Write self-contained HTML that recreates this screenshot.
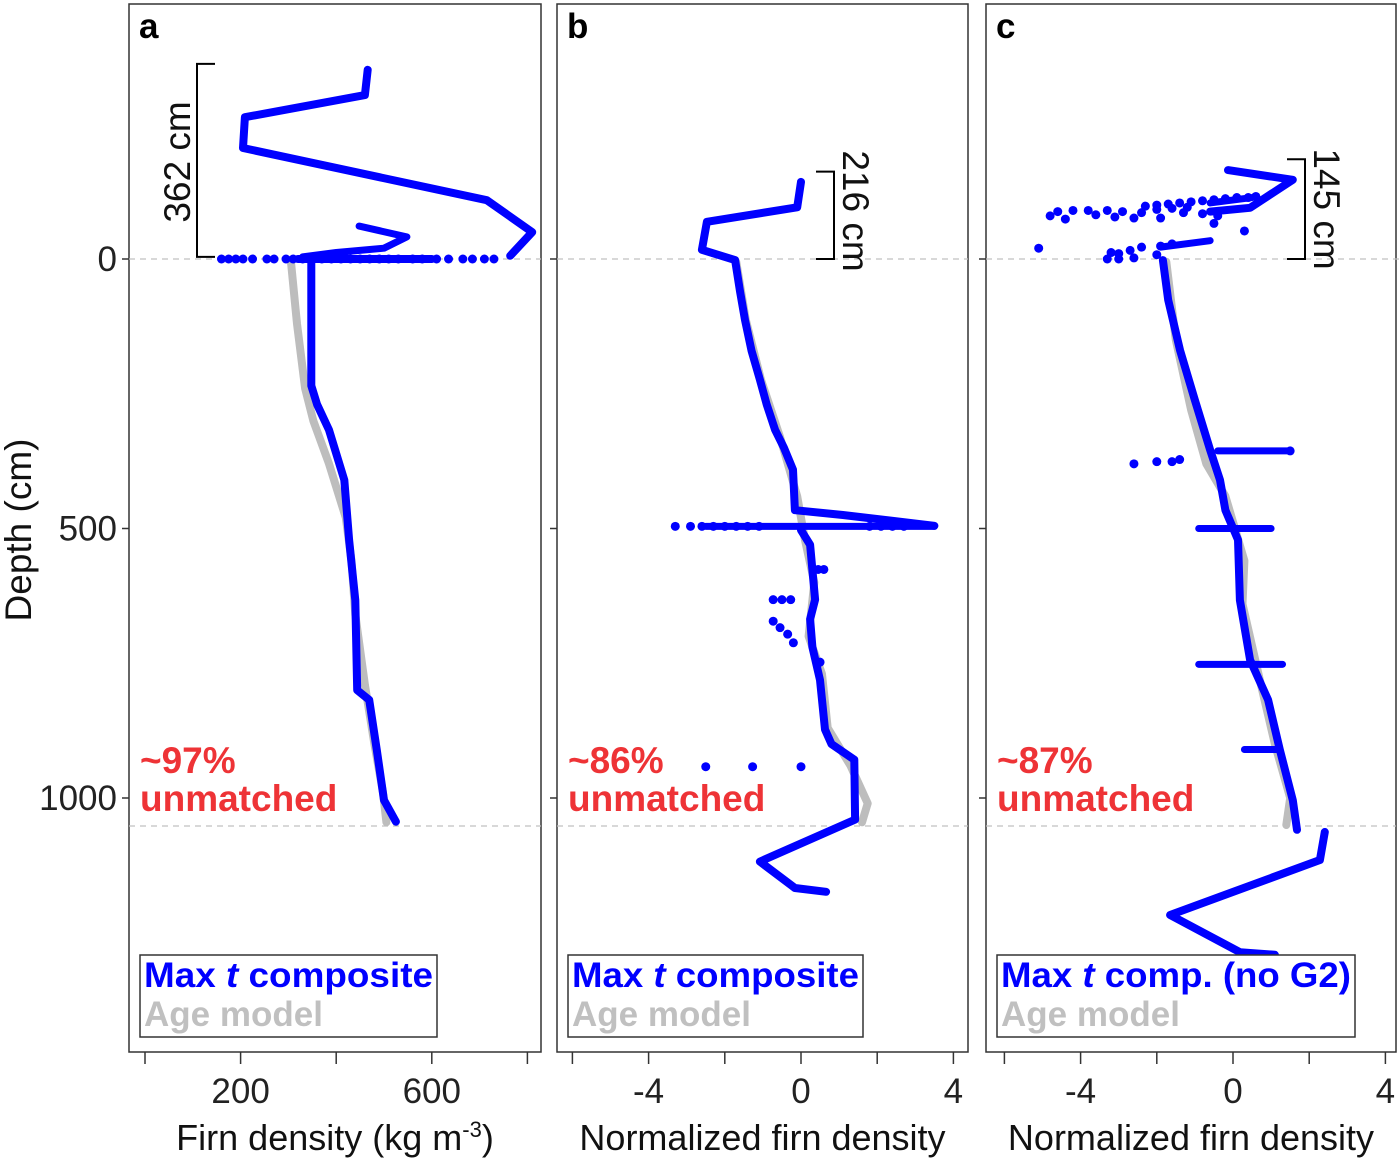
<!DOCTYPE html>
<html><head><meta charset="utf-8"><style>
html,body{margin:0;padding:0;background:#fff;}
svg{display:block;font-family:"Liberation Sans",Arial,sans-serif;}
</style></head><body>
<svg id="fig" width="1400" height="1160" viewBox="0 0 1400 1160"></svg>
<script>
// ---------- data ----------
const depthTicks = [0, 500, 1000];
const aTicks = [0, 200, 400, 600, 800];
const aTickLabels = ["", "200", "", "600", ""];
const nTicks = [-6, -4, -2, 0, 2, 4];
const nTickLabels = ["", "-4", "", "0", "", "4"];

// Panel a
const aLineVal   = [466, 460, 209, 205, 715, 810, 764];
const aLineDepth = [-351, -304, -263, -206, -109, -50, -6];
const aLine2Val   = [448, 548, 500, 400, 330];
const aLine2Depth = [-61, -41, -20, -12, -4];
const aMainVal   = [348, 348, 360, 385, 417, 427, 440, 444, 469, 485, 500, 525];
const aMainDepth = [0, 235, 270, 317, 410, 521, 633, 800, 818, 911, 1004, 1044];
const aAgeVal   = [305, 318, 335, 352, 385, 420, 432, 440, 460, 480, 498, 505];
const aAgeDepth = [2, 120, 240, 300, 380, 480, 560, 660, 790, 900, 990, 1045];
const aDotVal   = [160, 175, 190, 205, 225, 255, 270, 295, 310, 330, 350, 370, 390, 410, 430, 450, 470, 490, 510, 530, 560, 580, 610, 635, 665, 685, 710, 730];
const aDotDepth = [0, 0, 0, 0, 0, 0, 0, 0, 0, 0, 0, 0, 0, 0, 0, 0, 0, 0, 0, 0, 0, 0, 0, 0, 0, 0, 0, 0];
const aHLineVal = [320, 600];
const aHLineDepth = [0, 0];

// Panel b
const bLineVal   = [0, -0.1, -2.47, -2.6, -1.73, -1.6, -1.47, -1.3, -1.08, -0.9, -0.68, -0.45, -0.21, -0.16, 1.1, 3.5];
const bLineDepth = [-143, -96, -69, -17, 2, 60, 113, 170, 224, 270, 317, 350, 391, 466, 475, 495];
const bMainVal   = [0, 0.24, 0.37, 0.24, 0.3, 0.5, 0.63, 0.8, 1.4, 1.42, -1.08, -0.16, 0.66];
const bMainDepth = [503, 530, 632, 668, 720, 781, 873, 900, 929, 1040, 1118, 1167, 1174];
const bAgeVal   = [-1.7, -1.45, -1.05, -0.55, -0.1, 0.1, 0.35, 0.2, 0.55, 0.7, 1.3, 1.75, 1.6];
const bAgeDepth = [5, 113, 224, 330, 440, 520, 600, 700, 770, 870, 940, 1010, 1045];
const bHLineVal = [-2.5, 3.5];
const bHLineDepth = [496, 496];
const bDotVal   = [-3.3, -2.9, -2.6, -2.3, -2.0, -1.7, -1.4, -1.1, 1.8, 2.1, 2.4, 2.7, -2.5, -1.27, 0, -0.73, -0.5, -0.27, -0.73, -0.55, -0.35, -0.2, 0.45, 0.6, 0.5];
const bDotDepth = [496, 496, 496, 496, 496, 496, 496, 496, 496, 496, 496, 496, 942, 942, 942, 632, 632, 632, 672, 684, 696, 712, 576, 576, 748];

// Panel c
const cLineVal   = [-0.13, 1.57, 0.45, -0.6];
const cLineDepth = [-165, -147, -95, -88];
const cMainVal   = [-1.84, -1.7, -1.39, -1.0, -0.6, -0.34, -0.2, 0.13, 0.18, 0.45, 0.92, 1.23, 1.57, 1.68];
const cMainDepth = [2, 76, 169, 262, 354, 410, 466, 521, 633, 744, 818, 911, 1004, 1059];
const cTailVal   = [2.41, 2.28, -1.65, 0.18, 1.1];
const cTailDepth = [1063, 1115, 1217, 1286, 1291];
const cAgeVal   = [-1.75, -1.5, -1.1, -0.7, -0.2, 0.3, 0.25, 0.7, 1.1, 1.5, 1.4];
const cAgeDepth = [5, 150, 280, 380, 440, 560, 640, 780, 900, 1000, 1050];
const cHLineVal   = [-0.4, 1.5, -0.9, 1.0, -0.9, 1.3, 0.3, 1.2, -1.9, -0.6, -0.6, 0.5];
const cHLineDepth = [356, 356, 500, 500, 752, 752, 910, 910, -22, -34, -104, -114];
const cDotVal   = [-2.6, -2.0, -1.6, -1.4, 1.5, -2.3, -2.0, -1.7, -1.4, -1.1, -0.8, -0.5, -0.2, 0.1, 0.4, 0.6, -4.6, -4.2, -3.8, -3.3, -2.9, -2.4, -2.0, -1.6, -1.2, -0.8, -0.4, -4.8, -4.4, -3.6, -3.1, -2.6, -1.9, -1.3, -0.5, 0.3, -5.1, -3.2, -3.0, -2.7, -2.4, -1.9, -1.6, -3.3, -3.0, -2.6, -2.0];
const cDotDepth = [380, 376, 376, 372, 356, -98, -100, -102, -104, -106, -108, -110, -112, -114, -114, -116, -88, -90, -90, -90, -88, -86, -92, -94, -96, -84, -80, -80, -74, -82, -78, -76, -76, -86, -66, -52, -20, -12, -10, -16, -22, -24, -28, 0, 0, -2, -8];

// ---------- drawing ----------
const svg = document.getElementById('fig');
const NS = 'http://www.w3.org/2000/svg';
const Y0 = 259, YK = 0.539;
function yScale(d){ return Y0 + d*YK; }
function mk(tag, attrs, name){
  const e = document.createElementNS(NS, tag);
  for (const k in attrs) e.setAttribute(k, attrs[k]);
  
  
  svg.appendChild(e); return e;
}
function txt(x, y, s, opts, name){
  const e = mk('text', Object.assign({x:x, y:y}, opts), name);
  e.textContent = s; return e;
}
function poly(xs, ds, xf, color, w, name){
  const pts = xs.map((v,i)=> xf(v).toFixed(1)+','+yScale(ds[i]).toFixed(1)).join(' ');
  mk('polyline', {points:pts, fill:'none', stroke:color, 'stroke-width':w, 'stroke-linejoin':'round', 'stroke-linecap':'round'}, name);
}
function segs(xs, ds, xf, color, w, name){
  for (let i=0;i<xs.length;i+=2){
    mk('line', {x1:xf(xs[i]), y1:yScale(ds[i]), x2:xf(xs[i+1]), y2:yScale(ds[i+1]), stroke:color, 'stroke-width':w, 'stroke-linecap':'round'}, name);
  }
}
function dots(xs, ds, xf, name){
  xs.forEach((v,i)=> mk('circle', {cx:xf(v), cy:yScale(ds[i]), r:4.5, fill:'#0000ff'}, name));
}

const panels = [
  {x0:129, x1:541, letter:'a', xf:v=>145+v*0.478, ticks:aTicks, labels:aTickLabels, title:'Firn density (kg m', sup:true, pct:'~97%', leg:'composite', legW:297},
  {x0:557, x1:968, letter:'b', xf:v=>801+v*38.1, ticks:nTicks, labels:nTickLabels, title:'Normalized firn density', pct:'~86%', leg:'composite', legW:295},
  {x0:986, x1:1396, letter:'c', xf:v=>1233+v*38.1, ticks:nTicks, labels:nTickLabels, title:'Normalized firn density', pct:'~87%', leg:'comp. (no G2)', legW:358}
];

panels.forEach((p, pi)=>{
  mk('rect', {x:p.x0, y:4, width:p.x1-p.x0, height:1048, fill:'#fff', stroke:'#333', 'stroke-width':1.5}, 'panel-'+p.letter+'-frame');
  mk('line', {x1:p.x0, y1:yScale(0), x2:p.x1+(pi<2?0:4), y2:yScale(0), stroke:'#c0c0c0', 'stroke-width':1.3, 'stroke-dasharray':'6,5'}, 'surface-line');
  mk('line', {x1:p.x0, y1:yScale(1052), x2:p.x1, y2:yScale(1052), stroke:'#c0c0c0', 'stroke-width':1.3, 'stroke-dasharray':'6,5'}, 'bottom-reference-line');
  depthTicks.forEach(d=> mk('line', {x1:p.x0-7, y1:yScale(d), x2:p.x0, y2:yScale(d), stroke:'#333', 'stroke-width':1.5}, 'y-tick'));
  p.ticks.forEach((t,i)=>{
    const x = p.xf(t);
    mk('line', {x1:x, y1:1052, x2:x, y2:1064, stroke:'#333', 'stroke-width':1.5}, 'x-tick');
    if (p.labels[i]) txt(x, 1103, p.labels[i], {'font-size':35, 'text-anchor':'middle', fill:'#222'}, 'x-tick-label');
  });
  const xt = txt((p.x0+p.x1)/2, 1150, p.title, {'font-size':36, 'text-anchor':'middle', fill:'#111'}, 'x-axis-title');
  if (p.sup){
    const s1 = document.createElementNS(NS,'tspan'); s1.setAttribute('dy','-13'); s1.setAttribute('font-size','22'); s1.textContent='-3'; xt.appendChild(s1);
    const s2 = document.createElementNS(NS,'tspan'); s2.setAttribute('dy','13'); s2.textContent=')'; xt.appendChild(s2);
  }
  txt(p.x0+10, 38, p.letter, {'font-size':35, 'font-weight':'bold', fill:'#000'}, 'panel-letter');
  txt(p.x0+11, 773, p.pct, {'font-size':37, 'font-weight':'bold', fill:'#ee3336'}, 'unmatched-percent');
  txt(p.x0+11, 811, 'unmatched', {'font-size':37, 'font-weight':'bold', fill:'#ee3336'}, 'unmatched-label');
});

const A = panels[0].xf, B = panels[1].xf, C = panels[2].xf;
poly(aAgeVal, aAgeDepth, A, '#bdbdbd', 8, 'age-model-line');
poly(aMainVal, aMainDepth, A, '#0000ff', 8, 'composite-line');
poly(aLineVal, aLineDepth, A, '#0000ff', 8, 'composite-line');
poly(aLine2Val, aLine2Depth, A, '#0000ff', 7, 'composite-line');
segs(aHLineVal, aHLineDepth, A, '#0000ff', 8, 'composite-line');
dots(aDotVal, aDotDepth, A, 'composite-point');
poly(bAgeVal, bAgeDepth, B, '#bdbdbd', 8, 'age-model-line');
poly(bLineVal, bLineDepth, B, '#0000ff', 8, 'composite-line');
poly(bMainVal, bMainDepth, B, '#0000ff', 8, 'composite-line');
segs(bHLineVal, bHLineDepth, B, '#0000ff', 7, 'composite-line');
dots(bDotVal, bDotDepth, B, 'composite-point');
poly(cAgeVal, cAgeDepth, C, '#bdbdbd', 8, 'age-model-line');
poly(cLineVal, cLineDepth, C, '#0000ff', 8, 'composite-line');
poly(cMainVal, cMainDepth, C, '#0000ff', 8, 'composite-line');
poly(cTailVal, cTailDepth, C, '#0000ff', 8, 'composite-line');
segs(cHLineVal, cHLineDepth, C, '#0000ff', 7, 'composite-line');
dots(cDotVal, cDotDepth, C, 'composite-point');

function bracket(x, d1, d2, dir, name){
  const y1 = yScale(d1), y2 = yScale(d2);
  mk('polyline', {points:`${x+dir*18},${y1} ${x},${y1} ${x},${y2} ${x+dir*18},${y2}`, fill:'none', stroke:'#000', 'stroke-width':2}, name);
}
bracket(197, -362, -4, 1, 'bracket-362');
txt(0,0,'362 cm',{'font-size':37, fill:'#111', 'text-anchor':'middle', transform:'translate(190,162) rotate(-90)'},'bracket-label');
bracket(834, -162, 0, -1, 'bracket-216');
txt(0,0,'216 cm',{'font-size':37, fill:'#111', 'text-anchor':'middle', transform:'translate(843,211) rotate(90)'},'bracket-label');
bracket(1305, -185, 0, -1, 'bracket-145');
txt(0,0,'145 cm',{'font-size':37, fill:'#111', 'text-anchor':'middle', transform:'translate(1314,209) rotate(90)'},'bracket-label');

panels.forEach(p=>{
  const lx = p.x0+11;
  mk('rect', {x:lx, y:955, width:p.legW, height:82, fill:'#fff', stroke:'#333', 'stroke-width':1.5}, 'legend-box');
  const t = txt(lx+4, 987, 'Max ', {'font-size':35, 'font-weight':'bold', fill:'#0000ff', textLength:p.legW-8, lengthAdjust:'spacingAndGlyphs'}, 'legend-entry-composite');
  const ti = document.createElementNS(NS,'tspan'); ti.setAttribute('font-style','italic'); ti.textContent='t'; t.appendChild(ti);
  const tr = document.createElementNS(NS,'tspan'); tr.textContent=' '+p.leg; t.appendChild(tr);
  txt(lx+4, 1026, 'Age model', {'font-size':35, 'font-weight':'bold', fill:'#c0c0c0'}, 'legend-entry-age-model');
});

depthTicks.forEach(d=> txt(117, yScale(d)+12, String(d), {'font-size':35, 'text-anchor':'end', fill:'#222'}, 'y-tick-label'));
txt(0,0,'Depth (cm)',{'font-size':37, fill:'#111', 'text-anchor':'middle', transform:'translate(31,530) rotate(-90)'},'y-axis-title');
</script>
</body></html>
